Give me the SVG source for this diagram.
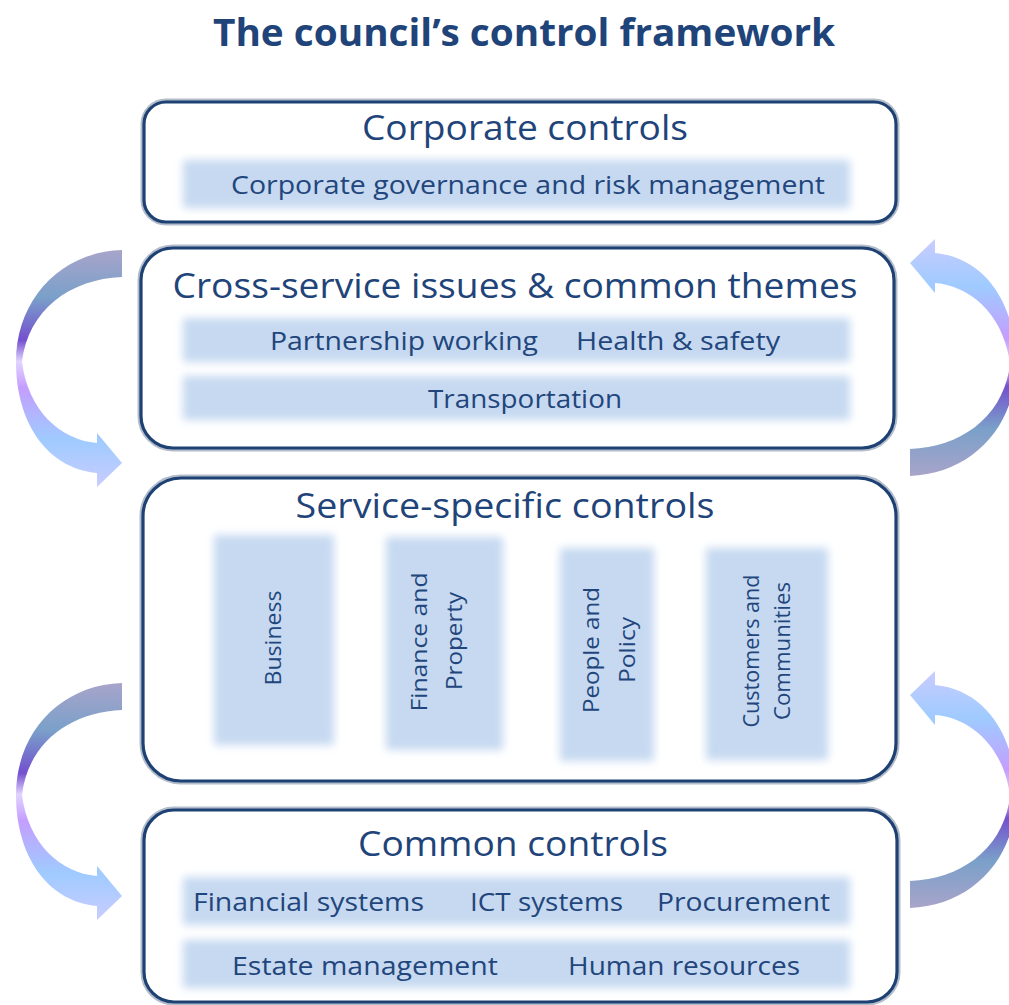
<svg xmlns="http://www.w3.org/2000/svg" width="1009" height="1005" viewBox="0 0 1009 1005">
  <style>
    .title { font-family: "Open Sans", "Liberation Sans", sans-serif; font-weight: bold; font-size: 37px; fill: #1F447A; }
    .head { font-family: "Open Sans", "Liberation Sans", sans-serif; font-size: 35px; fill: #1F447A; }
    .item { font-family: "Open Sans", "Liberation Sans", sans-serif; font-size: 26px; fill: #22467C; }
    .vitem { font-family: "Open Sans", "Liberation Sans", sans-serif; font-size: 22px; fill: #22467C; }
    .halo { fill: none; stroke: #B3BCCB; stroke-width: 7; }
    .frame { fill: #FFFFFF; stroke: #1E4174; stroke-width: 3.2; }
    .band { fill: #C6D9F1; filter: url(#soft); }
  </style>
  <defs>
    <filter id="soft" x="-10%" y="-30%" width="120%" height="160%">
      <feGaussianBlur stdDeviation="4.5"/>
    </filter>
    <linearGradient id="loop" gradientUnits="userSpaceOnUse" x1="0" y1="250" x2="0" y2="487">
      <stop offset="0" stop-color="#A8A4CA"/>
      <stop offset="0.2" stop-color="#7AA0C9"/>
      <stop offset="0.38" stop-color="#7350CF"/>
      <stop offset="0.47" stop-color="#E2D4FF"/>
      <stop offset="0.58" stop-color="#C49EFF"/>
      <stop offset="0.8" stop-color="#9FCBFF"/>
      <stop offset="1" stop-color="#C9CCFF"/>
    </linearGradient>
    <!-- curved "loop back" arrow: tail at top right, head at bottom right -->
    <path id="loopArrow" fill="url(#loop)" d="M122,250 L122,277 C70,279 28,310 22,362 C28,410 60,440 97,443 L97,433 L122,463 L97,487 L97,473 C45,468 16,420 16,362 C16,300 60,252 122,250 Z"/>
  </defs>

  <rect width="1009" height="1005" fill="#FFFFFF"/>

  <text class="title" x="524" y="46" text-anchor="middle" textLength="622" lengthAdjust="spacingAndGlyphs">The council’s control framework</text>

  <!-- connectors: curved arrows between the tiers -->
  <g id="connectors">
    <use href="#loopArrow"/>
    <use href="#loopArrow" transform="rotate(180 516 363)"/>
    <use href="#loopArrow" transform="translate(0 433)"/>
    <use href="#loopArrow" transform="translate(0 432) rotate(180 516 363)"/>
  </g>

  <g id="corporate-controls">
    <rect class="halo" x="144" y="102" width="752" height="120" rx="22"/>
    <rect class="frame" x="144" y="102" width="752" height="120" rx="22"/>
    <text class="head" x="525" y="140" text-anchor="middle" textLength="326" lengthAdjust="spacingAndGlyphs">Corporate controls</text>
    <rect class="band" x="183" y="160" width="667" height="48"/>
    <text class="item" x="528" y="194" text-anchor="middle" textLength="594" lengthAdjust="spacingAndGlyphs">Corporate governance and risk management</text>
  </g>

  <g id="cross-service">
    <rect class="halo" x="141" y="248" width="753" height="200" rx="32"/>
    <rect class="frame" x="141" y="248" width="753" height="200" rx="32"/>
    <text class="head" x="515" y="298" text-anchor="middle" textLength="685" lengthAdjust="spacingAndGlyphs">Cross-service issues &amp; common themes</text>
    <rect class="band" x="183" y="318" width="667" height="44"/>
    <text class="item" x="270" y="350" textLength="268" lengthAdjust="spacingAndGlyphs">Partnership working</text>
    <text class="item" x="576" y="350" textLength="204" lengthAdjust="spacingAndGlyphs">Health &amp; safety</text>
    <rect class="band" x="183" y="376" width="667" height="44"/>
    <text class="item" x="525" y="408" text-anchor="middle" textLength="194" lengthAdjust="spacingAndGlyphs">Transportation</text>
  </g>

  <g id="service-specific">
    <rect class="halo" x="143" y="478" width="753" height="303" rx="38"/>
    <rect class="frame" x="143" y="478" width="753" height="303" rx="38"/>
    <text class="head" x="505" y="518" text-anchor="middle" textLength="419" lengthAdjust="spacingAndGlyphs">Service-specific controls</text>

    <rect class="band" x="214" y="535" width="120" height="210"/>
    <text class="vitem" transform="translate(281 638) rotate(-90)" text-anchor="middle" textLength="95" lengthAdjust="spacingAndGlyphs">Business</text>

    <rect class="band" x="386" y="537" width="117" height="213"/>
    <text class="vitem" transform="translate(427 642) rotate(-90)" text-anchor="middle" textLength="139" lengthAdjust="spacingAndGlyphs">Finance and</text>
    <text class="vitem" transform="translate(462 641) rotate(-90)" text-anchor="middle" textLength="98" lengthAdjust="spacingAndGlyphs">Property</text>

    <rect class="band" x="560" y="548" width="94" height="213"/>
    <text class="vitem" transform="translate(599 650) rotate(-90)" text-anchor="middle" textLength="126" lengthAdjust="spacingAndGlyphs">People and</text>
    <text class="vitem" transform="translate(635 650) rotate(-90)" text-anchor="middle" textLength="66" lengthAdjust="spacingAndGlyphs">Policy</text>

    <rect class="band" x="706" y="548" width="122" height="212"/>
    <text class="vitem" transform="translate(759 651) rotate(-90)" text-anchor="middle" textLength="153" lengthAdjust="spacingAndGlyphs">Customers and</text>
    <text class="vitem" transform="translate(790 651) rotate(-90)" text-anchor="middle" textLength="138" lengthAdjust="spacingAndGlyphs">Communities</text>
  </g>

  <g id="common-controls">
    <rect class="halo" x="144" y="810" width="753" height="192" rx="30"/>
    <rect class="frame" x="144" y="810" width="753" height="192" rx="30"/>
    <text class="head" x="513" y="856" text-anchor="middle" textLength="310" lengthAdjust="spacingAndGlyphs">Common controls</text>
    <rect class="band" x="183" y="877" width="667" height="48"/>
    <text class="item" x="193" y="911" textLength="231" lengthAdjust="spacingAndGlyphs">Financial systems</text>
    <text class="item" x="470" y="911" textLength="153" lengthAdjust="spacingAndGlyphs">ICT systems</text>
    <text class="item" x="657" y="911" textLength="173" lengthAdjust="spacingAndGlyphs">Procurement</text>
    <rect class="band" x="183" y="940" width="667" height="48"/>
    <text class="item" x="232" y="975" textLength="266" lengthAdjust="spacingAndGlyphs">Estate management</text>
    <text class="item" x="568" y="975" textLength="232" lengthAdjust="spacingAndGlyphs">Human resources</text>
  </g>
</svg>
